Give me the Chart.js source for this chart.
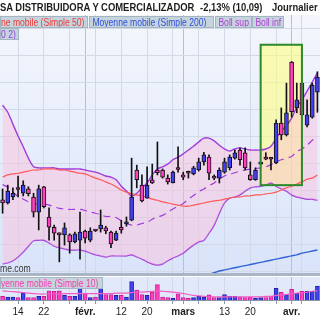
<!DOCTYPE html>
<html lang="fr">
<head>
<meta charset="UTF-8">
<title>Journalier</title>
<script src="https://cdn.jsdelivr.net/npm/chart.js"></script>
<style>
    body {
        margin: 0;
        width: 320px;
        height: 320px;
        overflow: hidden;
        position: relative;
        background: #fff;
        font-family: 'Liberation Sans', Arial, sans-serif;
    }
    canvas { position: absolute; left: 0; }
    #main { top: 0; }
    #vol { top: 274px; }
    .txt { display: inline-block; transform: scaleX(0.82); transform-origin: left center; white-space: nowrap; }
    .leg .txt { transform: scaleX(0.78); }
    .titre { position: absolute; top: 1px; font-weight: bold; font-size: 11.5px; color: #1c1c1c; line-height: 13px; }
    .leg {
        position: absolute; height: 10px; line-height: 10px; font-size: 11px;
        background: #c6d4dd; border: 1px solid #a3b5c1; overflow: hidden; box-sizing: content-box;
    }
    .sep { position: absolute; left: 0; top: 273px; width: 320px; height: 3px; background: #aab6c3; }
    .wm { position: absolute; left: 0; top: 262px; font-size: 10.5px; color: #333; }
</style>
</head>
<body>

<canvas id="main" width="320" height="274"></canvas>
<div class="sep"></div>
<canvas id="vol" width="320" height="46"></canvas>

<div class="titre" style="left:0"><span class="txt">SA DISTRIBUIDORA Y COMERCIALIZADOR</span></div>
<div class="titre" style="left:200px"><span class="txt">-2,13% (10,09)</span></div>
<div class="titre" style="left:272px"><span class="txt">Journalier</span></div>

<div class="leg" style="left:0;top:16px;width:86px;color:#ee3a3a"><span class="txt">ne mobile (Simple 50)</span></div>
<div class="leg" style="left:89px;top:16px;width:123px;color:#2f4fdc"><span class="txt">&nbsp;Moyenne mobile (Simple 200)</span></div>
<div class="leg" style="left:215px;top:16px;width:35px;color:#b03ad8"><span class="txt">&nbsp;Boll sup</span></div>
<div class="leg" style="left:252px;top:16px;width:30px;color:#b03ad8"><span class="txt">&nbsp;Boll inf</span></div>
<div class="leg" style="left:0;top:28px;width:17px;color:#8f3fd8"><span class="txt">0 2)</span></div>
<div class="wm"><span class="txt">me.com</span></div>
<div class="leg" style="left:0;top:277px;width:101px;color:#f03fae"><span class="txt">yenne mobile (Simple 10)</span></div>

<script>
    // cours journaliers
    const opens  = [7.82, 7.76, 7.87, 8.03, 7.94, 8.02, 7.87, 7.59, 8.06, 7.50,
                    7.31, 7.20, 7.17, 7.17, 7.04, 7.07, 7.24, 7.07, 7.25, 7.28,
                    7.30, 7.22, 7.07, 7.31, 7.37, 7.44, 8.37, 8.09, 7.85, 8.19,
                    8.37, 8.37, 8.22, 8.13, 8.40, 8.28, 8.32, 8.30, 8.37, 8.52,
                    8.61, 8.26, 8.22, 8.33, 8.41, 8.59, 8.74, 8.69, 8.28, 8.19,
                    8.48, 8.61, 8.58, 8.50, 9.24, 9.02, 10.37, 9.52, 9.98, 9.20,
                    9.35, 9.81];
    const highs  = [8.02, 8.09, 8.04, 8.26, 8.17, 8.06, 7.94, 8.09, 8.07, 7.67,
                    7.35, 7.21, 7.39, 7.19, 7.22, 7.59, 7.26, 7.30, 7.26, 7.63,
                    7.33, 7.24, 7.24, 7.44, 7.50, 8.59, 8.46, 8.28, 8.43, 8.48,
                    8.89, 8.39, 8.28, 8.35, 8.80, 8.33, 8.35, 8.44, 8.59, 8.70,
                    8.65, 8.28, 8.41, 8.59, 8.65, 8.74, 8.78, 8.78, 8.52, 8.41,
                    8.52, 8.69, 8.59, 9.30, 9.52, 9.98, 10.38, 9.98, 10.00, 9.67,
                    9.98, 10.19];
    const lows   = [7.57, 7.74, 7.82, 7.87, 7.89, 7.89, 7.50, 7.26, 7.67, 7.07,
                    7.07, 6.67, 6.98, 6.83, 7.02, 6.72, 7.02, 7.04, 7.23, 7.22,
                    7.19, 6.93, 7.06, 7.20, 7.33, 7.43, 8.04, 7.78, 7.85, 8.12,
                    8.28, 8.22, 8.11, 8.13, 8.33, 8.19, 8.22, 8.28, 8.35, 8.46,
                    8.19, 8.19, 8.13, 8.31, 8.37, 8.57, 8.46, 8.37, 8.18, 8.18,
                    8.47, 8.56, 8.37, 8.49, 8.93, 9.00, 9.35, 9.43, 9.37, 9.17,
                    9.33, 9.44];
    const closes = [7.76, 7.98, 7.94, 8.01, 8.09, 7.93, 7.59, 8.02, 7.69, 7.31,
                    7.20, 7.17, 7.30, 7.04, 7.19, 7.22, 7.11, 7.24, 7.24, 7.35,
                    7.24, 7.00, 7.20, 7.26, 7.41, 7.87, 8.19, 7.80, 8.09, 8.13,
                    8.32, 8.24, 8.15, 8.33, 8.38, 8.24, 8.31, 8.41, 8.52, 8.65,
                    8.31, 8.22, 8.37, 8.52, 8.61, 8.69, 8.56, 8.41, 8.19, 8.37,
                    8.50, 8.57, 8.57, 9.24, 9.02, 9.43, 9.45, 9.67, 9.39, 9.39,
                    9.94, 10.09];

    const bollSup = [9.57, 9.44, 9.22, 9.00, 8.80, 8.59, 8.43, 8.41, 8.41, 8.41,
                     8.41, 8.39, 8.39, 8.39, 8.39, 8.39, 8.37, 8.35, 8.33, 8.30,
                     8.26, 8.24, 8.19, 8.07, 7.98, 7.89, 7.94, 8.04, 8.13, 8.28,
                     8.39, 8.43, 8.48, 8.56, 8.61, 8.67, 8.74, 8.81, 8.89, 8.96,
                     8.96, 8.91, 8.83, 8.76, 8.72, 8.76, 8.78, 8.76, 8.74, 8.74,
                     8.74, 8.76, 8.81, 8.96, 9.09, 9.19, 9.33, 9.54, 9.67, 9.83,
                     10.00, 10.17];
    const bollInf = [6.63, 6.65, 6.69, 6.76, 6.85, 6.96, 7.06, 7.07, 7.07, 7.02,
                     6.96, 6.93, 6.91, 6.89, 6.89, 6.89, 6.87, 6.83, 6.80, 6.78,
                     6.76, 6.78, 6.78, 6.78, 6.78, 6.80, 6.76, 6.72, 6.67, 6.63,
                     6.61, 6.63, 6.69, 6.74, 6.78, 6.83, 6.91, 6.98, 7.04, 7.07,
                     7.20, 7.35, 7.57, 7.76, 7.85, 7.87, 7.91, 7.98, 8.04, 8.06,
                     8.07, 8.09, 8.13, 8.07, 8.02, 7.98, 7.91, 7.87, 7.85, 7.83,
                     7.83, 7.81];
    const bollMid = [8.10, 8.05, 7.96, 7.88, 7.83, 7.78, 7.75, 7.74, 7.74, 7.72,
                     7.69, 7.66, 7.65, 7.64, 7.64, 7.64, 7.62, 7.59, 7.57, 7.54,
                     7.51, 7.51, 7.49, 7.43, 7.38, 7.35, 7.35, 7.38, 7.40, 7.46,
                     7.50, 7.53, 7.59, 7.65, 7.70, 7.75, 7.83, 7.90, 7.97, 8.02,
                     8.08, 8.13, 8.20, 8.26, 8.29, 8.32, 8.35, 8.37, 8.39, 8.40,
                     8.41, 8.43, 8.47, 8.52, 8.56, 8.59, 8.62, 8.71, 8.76, 8.83,
                     8.92, 8.99];
    const sma50 = [8.24, 8.28, 8.30, 8.31, 8.33, 8.35, 8.37, 8.37, 8.39, 8.39,
                   8.39, 8.37, 8.37, 8.35, 8.33, 8.31, 8.30, 8.26, 8.22, 8.19,
                   8.15, 8.11, 8.06, 8.00, 7.96, 7.93, 7.91, 7.89, 7.87, 7.83,
                   7.81, 7.78, 7.76, 7.74, 7.72, 7.70, 7.70, 7.72, 7.74, 7.76,
                   7.78, 7.80, 7.81, 7.83, 7.85, 7.87, 7.87, 7.89, 7.89, 7.91,
                   7.91, 7.93, 7.94, 7.96, 8.00, 8.04, 8.07, 8.11, 8.15, 8.20,
                   8.22, 8.28];
    // la moyenne 200 reste sous le cadre sur la partie gauche
    const sma200 = Array(40).fill(null).concat([
                   6.44, 6.47, 6.50, 6.52, 6.54, 6.56, 6.58, 6.60, 6.62, 6.64,
                   6.66, 6.68, 6.70, 6.72, 6.74, 6.76, 6.78, 6.80, 6.83, 6.85,
                   6.87, 6.89]);

    // volumes (milliers)
    const volumes = [40, 33, 33, 27, 73, 27, 27, 40, 40, 100,
                     93, 100, 50, 40, 40, 140, 73, 27, 33, 133,
                     60, 60, 50, 50, 33, 200, 107, 60, 50, 83,
                     167, 33, 27, 17, 67, 27, 17, 27, 40, 33,
                     57, 27, 27, 60, 40, 40, 33, 27, 33, 17,
                     27, 27, 40, 127, 83, 60, 117, 73, 93, 93,
                     93, 150];
    const volMa10 = [100, 95, 90, 85, 80, 75, 70, 65, 65, 65,
                     65, 65, 70, 70, 70, 70, 70, 70, 70, 70,
                     70, 70, 75, 75, 75, 80, 85, 85, 90, 95,
                     100, 95, 90, 85, 80, 70, 60, 50, 45, 40,
                     35, 35, 35, 35, 35, 35, 35, 35, 35, 35,
                     35, 40, 40, 50, 55, 60, 70, 75, 80, 85,
                     95, 100];

    const tickIdx  = [3, 8, 16, 23, 28, 35, 43, 48, 56];
    const tickText = ['14', '22', 'févr.', '12', '20', 'mars', '13', '20', 'avr.'];
    const monthIdx = [16, 35, 56];
    const gridIdx  = [3, 8, 13, 16, 18, 23, 28, 33, 35, 38, 43, 48, 53, 56, 58];
    const gridPrices = [6.5, 7, 7.5, 8, 8.5, 9, 9.5, 10, 10.5, 11];
    const zone = { from: 50, to: 58, top: 10.69, bottom: 8.09 };

    const BLUE = '#4040f2', PINK = '#ff3ec0';
    const PURPLE = '#a03cdc';

    const labels = opens.map((_, i) => i);
    const up = opens.map((o, i) => closes[i] >= o);
    const bodies = opens.map((o, i) => [Math.min(o, closes[i]), Math.max(o, closes[i])]);
    const wicks = lows.map((l, i) => [l, highs[i]]);

    const gridColor = ctx => monthIdx.includes(ctx.index) ? '#b7c0d3'
        : (gridIdx.includes(ctx.index) ? '#d3d9e7' : 'rgba(0,0,0,0)');

    const fondPlugin = {
        id: 'fond',
        beforeDraw(chart, args, opts) {
            const { ctx, chartArea: a } = chart;
            const g = ctx.createLinearGradient(0, a.top, 0, a.bottom);
            g.addColorStop(0, opts.top);
            g.addColorStop(1, opts.bottom);
            ctx.save();
            ctx.fillStyle = g;
            ctx.fillRect(a.left, a.top, a.right - a.left, a.bottom - a.top);
            ctx.restore();
        }
    };

    function zoneRect(chart) {
        const x = chart.scales.x, y = chart.scales.y;
        const x0 = x.getPixelForValue(zone.from), x1 = x.getPixelForValue(zone.to);
        const y0 = y.getPixelForValue(zone.top), y1 = y.getPixelForValue(zone.bottom);
        return [x0, y0, x1 - x0, y1 - y0];
    }

    const zonePlugin = {
        id: 'zone',
        beforeDatasetsDraw(chart) {
            const ctx = chart.ctx;
            ctx.save();
            ctx.fillStyle = 'rgba(255, 255, 130, 0.6)';
            ctx.fillRect(...zoneRect(chart));
            ctx.restore();
        },
        afterDatasetsDraw(chart) {
            const ctx = chart.ctx;
            ctx.save();
            ctx.strokeStyle = '#2b8a2b';
            ctx.lineWidth = 2;
            ctx.strokeRect(...zoneRect(chart));
            ctx.restore();
        }
    };

    const ligne = (data, color, order, extra) => Object.assign({
        type: 'line', data, borderColor: color, borderWidth: 1.4,
        pointRadius: 0, tension: 0.3, fill: false, order
    }, extra || {});

    new Chart(document.getElementById('main'), {
        type: 'bar',
        data: {
            labels,
            datasets: [
                {
                    data: bodies, backgroundColor: up.map(u => u ? BLUE : PINK),
                    borderColor: '#111', borderWidth: 1, borderSkipped: false,
                    barThickness: 4, minBarLength: 2, grouped: false, order: 0
                },
                {
                    data: wicks, backgroundColor: '#111', barThickness: 1,
                    grouped: false, order: 1
                },
                ligne(bollSup, PURPLE, 5, { fill: '+1', backgroundColor: 'rgba(255, 185, 215, 0.42)' }),
                ligne(bollInf, PURPLE, 6),
                ligne(bollMid, PURPLE, 4, { borderDash: [7, 5], borderWidth: 1.2 }),
                ligne(sma50, '#ff5a5a', 2, { borderWidth: 1.2 }),
                ligne(sma200, '#3563d6', 3)
            ]
        },
        options: {
            responsive: false,
            animation: false,
            layout: { padding: { top: 15, bottom: 1, left: 0, right: 0 } },
            plugins: {
                legend: { display: false },
                tooltip: { enabled: false },
                fond: { top: '#f4f6fc', bottom: '#d9e4fa' }
            },
            scales: {
                x: {
                    offset: true,
                    ticks: { display: false },
                    grid: { offset: false, drawTicks: false, color: gridColor },
                    border: { display: false }
                },
                y: {
                    min: 6.463, max: 11.241,
                    afterBuildTicks: axis => { axis.ticks = gridPrices.map(v => ({ value: v })); },
                    ticks: { display: false },
                    grid: { drawTicks: false, color: '#d3d9e7' },
                    border: { display: false }
                }
            }
        },
        plugins: [fondPlugin, zonePlugin]
    });

    new Chart(document.getElementById('vol'), {
        type: 'bar',
        data: {
            labels,
            datasets: [
                {
                    data: volumes,
                    backgroundColor: up.map(u => u ? BLUE : PINK),
                    borderColor: up.map(u => u ? '#2222a8' : '#c8208e'),
                    borderWidth: 1, barThickness: 4, order: 1
                },
                ligne(volMa10, '#f25cc4', 0, { borderWidth: 1.2 })
            ]
        },
        options: {
            responsive: false,
            animation: false,
            layout: { padding: { top: 3, bottom: 0, left: 0, right: 0 } },
            plugins: {
                legend: { display: false },
                tooltip: { enabled: false },
                fond: { top: '#e3eafa', bottom: '#dfe7f9' }
            },
            scales: {
                x: {
                    offset: true,
                    ticks: {
                        autoSkip: false, maxRotation: 0, minRotation: 0, padding: 2,
                        color: '#1e1e1e',
                        font: ctx => ({
                            family: "'Liberation Sans', Arial, sans-serif", size: 10,
                            weight: monthIdx.includes(ctx.index) ? 'bold' : 'normal'
                        }),
                        callback: (v, i) => {
                            const k = tickIdx.indexOf(i);
                            return k >= 0 ? tickText[k] : '';
                        }
                    },
                    grid: {
                        offset: false, tickLength: 4, color: gridColor,
                        tickColor: ctx => gridIdx.includes(ctx.index) ? '#8e99aa' : 'rgba(0,0,0,0)'
                    },
                    border: { display: true, color: '#8a96a8' }
                },
                y: { display: false, min: 0, max: 250 }
            }
        },
        plugins: [fondPlugin]
    });
</script>

</body>
</html>
